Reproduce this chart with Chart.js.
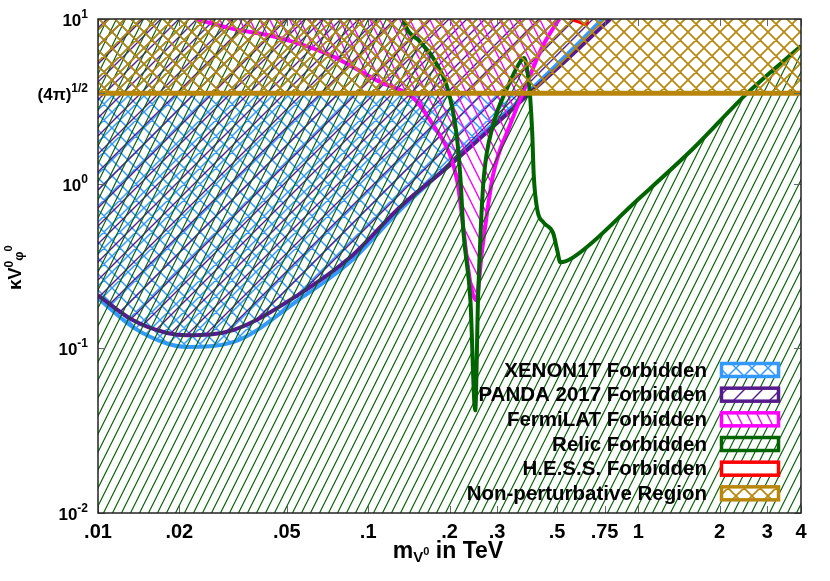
<!DOCTYPE html>
<html><head><meta charset="utf-8">
<script src="https://cdn.jsdelivr.net/npm/chart.js@4.4.0/dist/chart.umd.min.js"></script>
<style>html,body{margin:0;padding:0;background:#fff;}canvas{display:block;}</style>
</head><body>
<canvas id="c" width="830" height="581"></canvas>
<script>
// ---------------- data ----------------
const xTickValues = [0.01, 0.02, 0.05, 0.1, 0.2, 0.3, 0.5, 0.75, 1, 2, 3, 4];
const xTickLabels = ['.01', '.02', '.05', '.1', '.2', '.3', '.5', '.75', '1', '2', '3', '4'];
const yTickValues = [0.01, 0.1, 1, 3.545, 10];
const yTickBase = ['10', '10', '10', '(4\u03c0)', '10'];
const yTickSup = ['-2', '-1', '0', '1/2', '1'];

const legendLabels = ['XENON1T Forbidden', 'PANDA 2017 Forbidden', 'FermiLAT Forbidden',
  'Relic Forbidden', 'H.E.S.S. Forbidden', 'Non-perturbative Region'];

const xenonX = [0.01, 0.0135, 0.018, 0.0214, 0.0316, 0.056, 0.0858, 0.131, 0.201, 0.29, 0.388, 0.5, 0.6, 0.736];
const xenonY = [0.202, 0.134, 0.107, 0.102, 0.109, 0.2, 0.335, 0.69, 1.32, 2.3, 3.545, 5.3, 7.1, 10];

const pandaX = [0.01, 0.0135, 0.018, 0.0214, 0.0316, 0.056, 0.0858, 0.131, 0.201, 0.27, 0.335, 0.4, 0.5, 0.6, 0.787];
const pandaY = [0.21, 0.148, 0.124, 0.12, 0.129, 0.215, 0.357, 0.72, 1.30, 2.0, 2.75, 3.6, 5.0, 6.6, 10];

const fermiX = [0.0229, 0.0308, 0.0472, 0.0723, 0.1107, 0.147, 0.174, 0.201, 0.214, 0.239, 0.251, 0.264, 0.29, 0.335, 0.388, 0.445, 0.501, 0.51];
const fermiY = [10, 8.8, 7.66, 6.04, 4.14, 3.31, 2.27, 1.49, 1.02, 0.248, 0.196, 0.394, 1.13, 2.27, 4.14, 6.95, 9.6, 10];

const relicX = [0.01, 0.12, 0.135, 0.156, 0.174, 0.201, 0.214, 0.22, 0.225, 0.239, 0.249, 0.255, 0.262, 0.268, 0.29, 0.327, 0.365, 0.378, 0.39, 0.398, 0.405, 0.41, 0.423, 0.445, 0.484, 0.501, 0.514, 0.574, 0.99, 1.6, 2.53, 4.0];
const relicY = [30, 30, 10, 7.25, 5.8, 3.31, 1.79, 1.02, 0.52, 0.196, 0.042, 0.196, 0.6, 1.1, 2.27, 3.81, 5.48, 5.8, 4.6, 3.31, 2.0, 1.13, 0.69, 0.583, 0.5, 0.394, 0.333, 0.357, 0.794, 1.64, 3.545, 6.85];

const hessX = [0.546, 0.6, 0.645, 0.65];
const hessY = [10.2, 9.6, 9.25, 10.2];

const nonpertX = [0.01, 4];
const nonpertY = [3.545, 3.545];

// ---------------- styling ----------------
const C = {
  xenon: '#3399ff', panda: '#551a8b', fermi: '#ff00ff',
  relic: '#006400', hess: '#ff0000', nonpert: '#b8860b'
};
const FONT = 'Liberation Sans, Arial, Helvetica, sans-serif';

function makePattern(color, kind, w, h, lw) {
  const cv = document.createElement('canvas');
  cv.width = w; cv.height = h;
  const g = cv.getContext('2d');
  g.strokeStyle = color; g.lineWidth = lw; g.lineCap = 'square';
  g.beginPath();
  for (let k = -1; k <= 1; k++) {
    if (kind === 'fwd' || kind === 'cross') { g.moveTo(k * w, h); g.lineTo(k * w + w, 0); }
    if (kind === 'back' || kind === 'cross') { g.moveTo(k * w, 0); g.lineTo(k * w + w, h); }
  }
  g.stroke();
  return document.createElement('canvas').getContext('2d').createPattern(cv, 'repeat');
}
const P = {
  xenon: makePattern(C.xenon, 'cross', 16, 16, 1.5),
  panda: makePattern(C.panda, 'fwd', 18, 18, 1.4),
  fermi: makePattern(C.fermi, 'back', 10, 20, 1.4),
  relic: makePattern(C.relic, 'fwd', 9, 18, 1.2),
  hess: 'rgba(0,0,0,0)',
  nonpert: makePattern(C.nonpert, 'cross', 16, 16, 1.7)
};

const pts = (xs, ys) => xs.map((x, i) => ({ x: x, y: ys[i] }));

function ds(label, key, xs, ys, fill, bw, order) {
  return {
    label: label, data: pts(xs, ys), borderColor: C[key], backgroundColor: P[key],
    borderWidth: bw, fill: fill, order: order, pointRadius: 0, clip: 0,
    cubicInterpolationMode: 'monotone', _key: key
  };
}

const datasets = [
  ds(legendLabels[0], 'xenon', xenonX, xenonY, 'end', 4, 6),
  ds(legendLabels[1], 'panda', pandaX, pandaY, 'end', 4, 5),
  ds(legendLabels[2], 'fermi', fermiX, fermiY, 'end', 4, 4),
  ds(legendLabels[3], 'relic', relicX, relicY, 'start', 4, 3),
  ds(legendLabels[4], 'hess', hessX, hessY, false, 3, 2),
  ds(legendLabels[5], 'nonpert', nonpertX, nonpertY, 'end', 5, 1)
];

function drawRich(ctx, parts, x, y, align) {
  let total = 0;
  parts.forEach(p => { ctx.font = 'bold ' + p[1] + 'px ' + FONT; total += ctx.measureText(p[0]).width; });
  let cx = align === 'right' ? x - total : (align === 'center' ? x - total / 2 : x);
  ctx.textAlign = 'left'; ctx.textBaseline = 'alphabetic';
  parts.forEach(p => {
    ctx.font = 'bold ' + p[1] + 'px ' + FONT;
    ctx.fillText(p[0], cx, y + p[2]);
    cx += ctx.measureText(p[0]).width;
  });
}

const decor = {
  id: 'decor',
  afterDraw(chart) {
    const ctx = chart.ctx, ca = chart.chartArea;
    const xs = chart.scales.x, ys = chart.scales.y;
    ctx.save();
    ctx.strokeStyle = '#666'; ctx.lineWidth = 1;
    ctx.beginPath();
    xTickValues.forEach(v => {
      const px = Math.round(xs.getPixelForValue(v)) + 0.5;
      ctx.moveTo(px, ca.bottom); ctx.lineTo(px, ca.bottom - 7);
      ctx.moveTo(px, ca.top); ctx.lineTo(px, ca.top + 7);
    });
    yTickValues.forEach(v => {
      const py = Math.round(ys.getPixelForValue(v)) + 0.5;
      ctx.moveTo(ca.left, py); ctx.lineTo(ca.left + 7, py);
      ctx.moveTo(ca.right, py); ctx.lineTo(ca.right - 7, py);
    });
    ctx.stroke();
    ctx.strokeStyle = '#222'; ctx.lineWidth = 1.5;
    ctx.strokeRect(ca.left, ca.top, ca.right - ca.left, ca.bottom - ca.top);
    ctx.fillStyle = '#000';
    yTickValues.forEach((v, i) => {
      const py = ys.getPixelForValue(v);
      drawRich(ctx, [[yTickBase[i], 17, 0], [yTickSup[i], 12, -8]], 88, py + 7, 'right');
    });
    drawRich(ctx, [['m', 23, 0], ['V', 15, 4], ['0', 11, -3], [' in TeV', 23, 0]], 448, 558, 'center');
    ctx.save();
    ctx.translate(21, 290); ctx.rotate(-Math.PI / 2);
    drawRich(ctx, [['\u03ba', 19, 0], ['V', 18, 0], ['0', 12, -8], ['\u03c6', 13, 2], ['0', 11, -9]], 0, 0, 'left');
    ctx.restore();
    const x0 = 707, sx = 721.5, sw = 57, y0 = 370, dy = 24.67;
    chart.data.datasets.forEach((d, i) => {
      const cy = y0 + i * dy;
      ctx.fillStyle = '#000';
      ctx.font = 'bold 20.5px ' + FONT; ctx.textAlign = 'right'; ctx.textBaseline = 'middle';
      ctx.fillText(legendLabels[i], x0, cy + 1);
      ctx.fillStyle = '#fff';
      ctx.fillRect(sx, cy - 6.5, sw, 13);
      ctx.fillStyle = P[d._key];
      ctx.fillRect(sx, cy - 6.5, sw, 13);
      ctx.strokeStyle = C[d._key]; ctx.lineWidth = 3.5;
      ctx.strokeRect(sx, cy - 6.5, sw, 13);
    });
    ctx.restore();
  }
};

new Chart(document.getElementById('c').getContext('2d'), {
  type: 'line',
  data: { datasets: datasets },
  options: {
    responsive: false, animation: false, devicePixelRatio: 1,
    layout: { padding: { left: 0, right: 29, top: 19, bottom: 0 } },
    plugins: { legend: { display: false }, tooltip: { enabled: false } },
    scales: {
      x: {
        type: 'logarithmic', min: 0.01, max: 4,
        afterBuildTicks: s => { s.ticks = xTickValues.map(v => ({ value: v })); },
        afterFit: s => { s.height = 68; s.paddingLeft = 0; s.paddingRight = 0; },
        ticks: {
          autoSkip: false, maxRotation: 0, minRotation: 0, padding: 7, color: '#000',
          font: { family: FONT, weight: 'bold', size: 20 },
          callback: (v, i) => xTickLabels[i]
        },
        grid: { display: false, drawTicks: false }, border: { display: false }
      },
      y: {
        type: 'logarithmic', min: 0.01, max: 10,
        afterBuildTicks: s => { s.ticks = yTickValues.map(v => ({ value: v })); },
        afterFit: s => { s.width = 98; s.paddingTop = 0; s.paddingBottom = 0; },
        ticks: { display: false },
        grid: { display: false, drawTicks: false }, border: { display: false }
      }
    }
  },
  plugins: [decor]
});
</script>
</body></html>
